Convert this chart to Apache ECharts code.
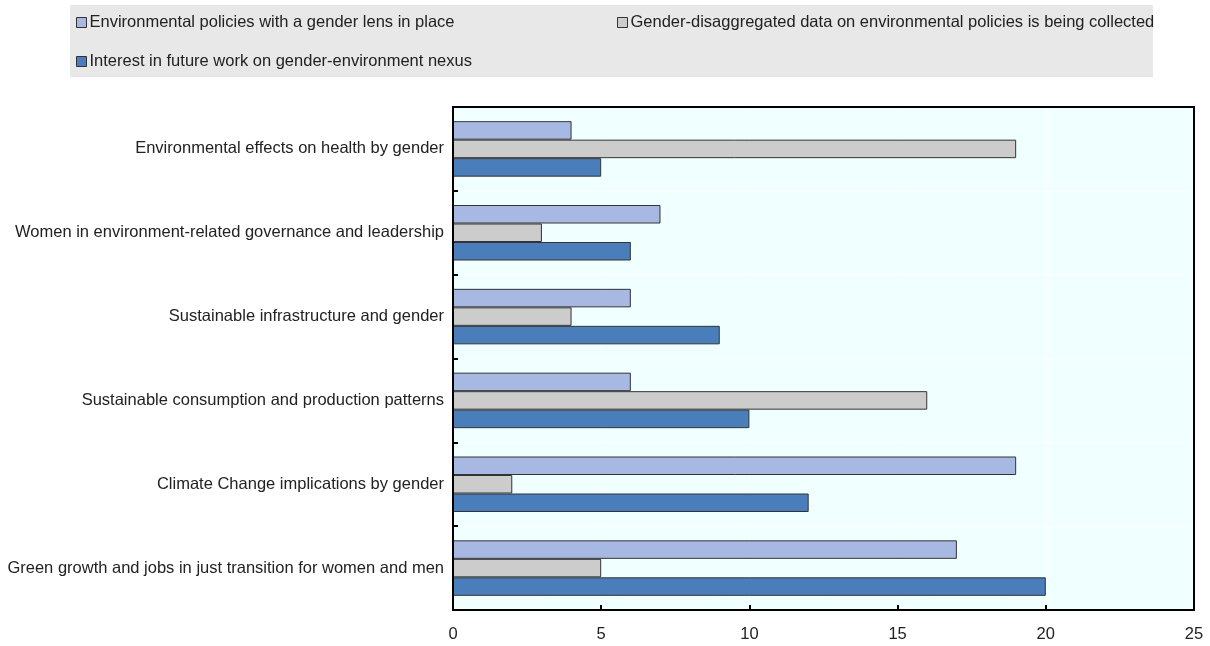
<!DOCTYPE html>
<html>
<head>
<meta charset="utf-8">
<script src="https://cdn.jsdelivr.net/npm/echarts@6/dist/echarts.min.js"></script>
<style>
  html, body { margin: 0; padding: 0; background: #fff; }
  #chart { width: 1210px; height: 646px; }
</style>
</head>
<body>
<div id="chart"></div>
<script>
const categories = [
  'Environmental effects on health by gender',
  'Women in environment-related governance and leadership',
  'Sustainable infrastructure and gender',
  'Sustainable consumption and production patterns',
  'Climate Change implications by gender',
  'Green growth and jobs in just transition for women and men'
]
const seriesNames = [
  'Environmental policies with a gender lens in place',
  'Gender-disaggregated data on environmental policies is being collected',
  'Interest in future work on gender-environment nexus'
]
const lensInPlace = [4, 7, 6, 6, 19, 17]
const dataCollected = [19, 3, 4, 16, 2, 5]
const futureInterest = [5, 6, 9, 10, 12, 20]
const xTicks = [0, 5, 10, 15, 20, 25]

const colors = ['#a7b9e3', '#cccccc', '#4a7ebb']
const font = '"Liberation Sans", Arial, sans-serif'

const chart = echarts.init(document.getElementById('chart'), null, { renderer: 'canvas' })

const legendItem = (name, left, top) => ({
  data: [name],
  left: left,
  top: top,
  itemWidth: 10,
  itemHeight: 10,
  itemGap: 4,
  icon: 'rect',
  padding: 0,
  selectedMode: false,
  textStyle: { fontFamily: font, fontSize: 16.5, color: '#222', padding: [0, 0, 0, -2] },
  itemStyle: { borderColor: '#333', borderWidth: 1 }
})

const makeSeries = (name, values, color) => ({
  name: name,
  type: 'bar',
  data: values,
  barWidth: 18.5,
  barGap: '0%',
  itemStyle: { color: color, borderColor: '#333', borderWidth: 1 }
})

const option = {
  backgroundColor: '#fff',
  animation: false,
  graphic: [{
    type: 'rect',
    shape: { x: 70, y: 5, width: 1083, height: 72 },
    style: { fill: '#e8e8e8' },
    z: -1
  }, {
    // frame round the plot
    type: 'rect',
    shape: { x: 453, y: 107, width: 741, height: 503 },
    style: { fill: 'none', stroke: '#000', lineWidth: 2 },
    silent: true,
    z: 100
  }],
  legend: [
    legendItem(seriesNames[0], 76, 14),
    legendItem(seriesNames[1], 617, 14),
    legendItem(seriesNames[2], 76, 53)
  ],
  grid: {
    left: 453,
    right: 16,
    top: 107,
    bottom: 36,
    show: true,
    backgroundColor: '#f0ffff',
    borderWidth: 0
  },
  xAxis: {
    type: 'value',
    min: xTicks[0],
    max: xTicks[xTicks.length - 1],
    interval: 5,
    axisLine: { show: true, onZero: false, lineStyle: { color: '#000', width: 2 } },
    axisTick: { show: true, inside: true, length: 5, lineStyle: { color: '#000', width: 2 } },
    axisLabel: { fontFamily: font, fontSize: 16.5, color: '#222', margin: 16 },
    splitLine: { show: true, lineStyle: { color: '#fff', width: 1 } }
  },
  yAxis: {
    type: 'category',
    data: categories,
    inverse: true,
    axisLine: { show: true, lineStyle: { color: '#000', width: 2 } },
    axisTick: { show: true, inside: true, length: 5, lineStyle: { color: '#000', width: 2 } },
    axisLabel: { fontFamily: font, fontSize: 16.5, color: '#222', margin: 9 },
    splitLine: { show: true, lineStyle: { color: '#fff', width: 1 } }
  },
  series: [
    makeSeries(seriesNames[0], lensInPlace, colors[0]),
    makeSeries(seriesNames[1], dataCollected, colors[1]),
    makeSeries(seriesNames[2], futureInterest, colors[2])
  ]
}

chart.setOption(option)
</script>
</body>
</html>
